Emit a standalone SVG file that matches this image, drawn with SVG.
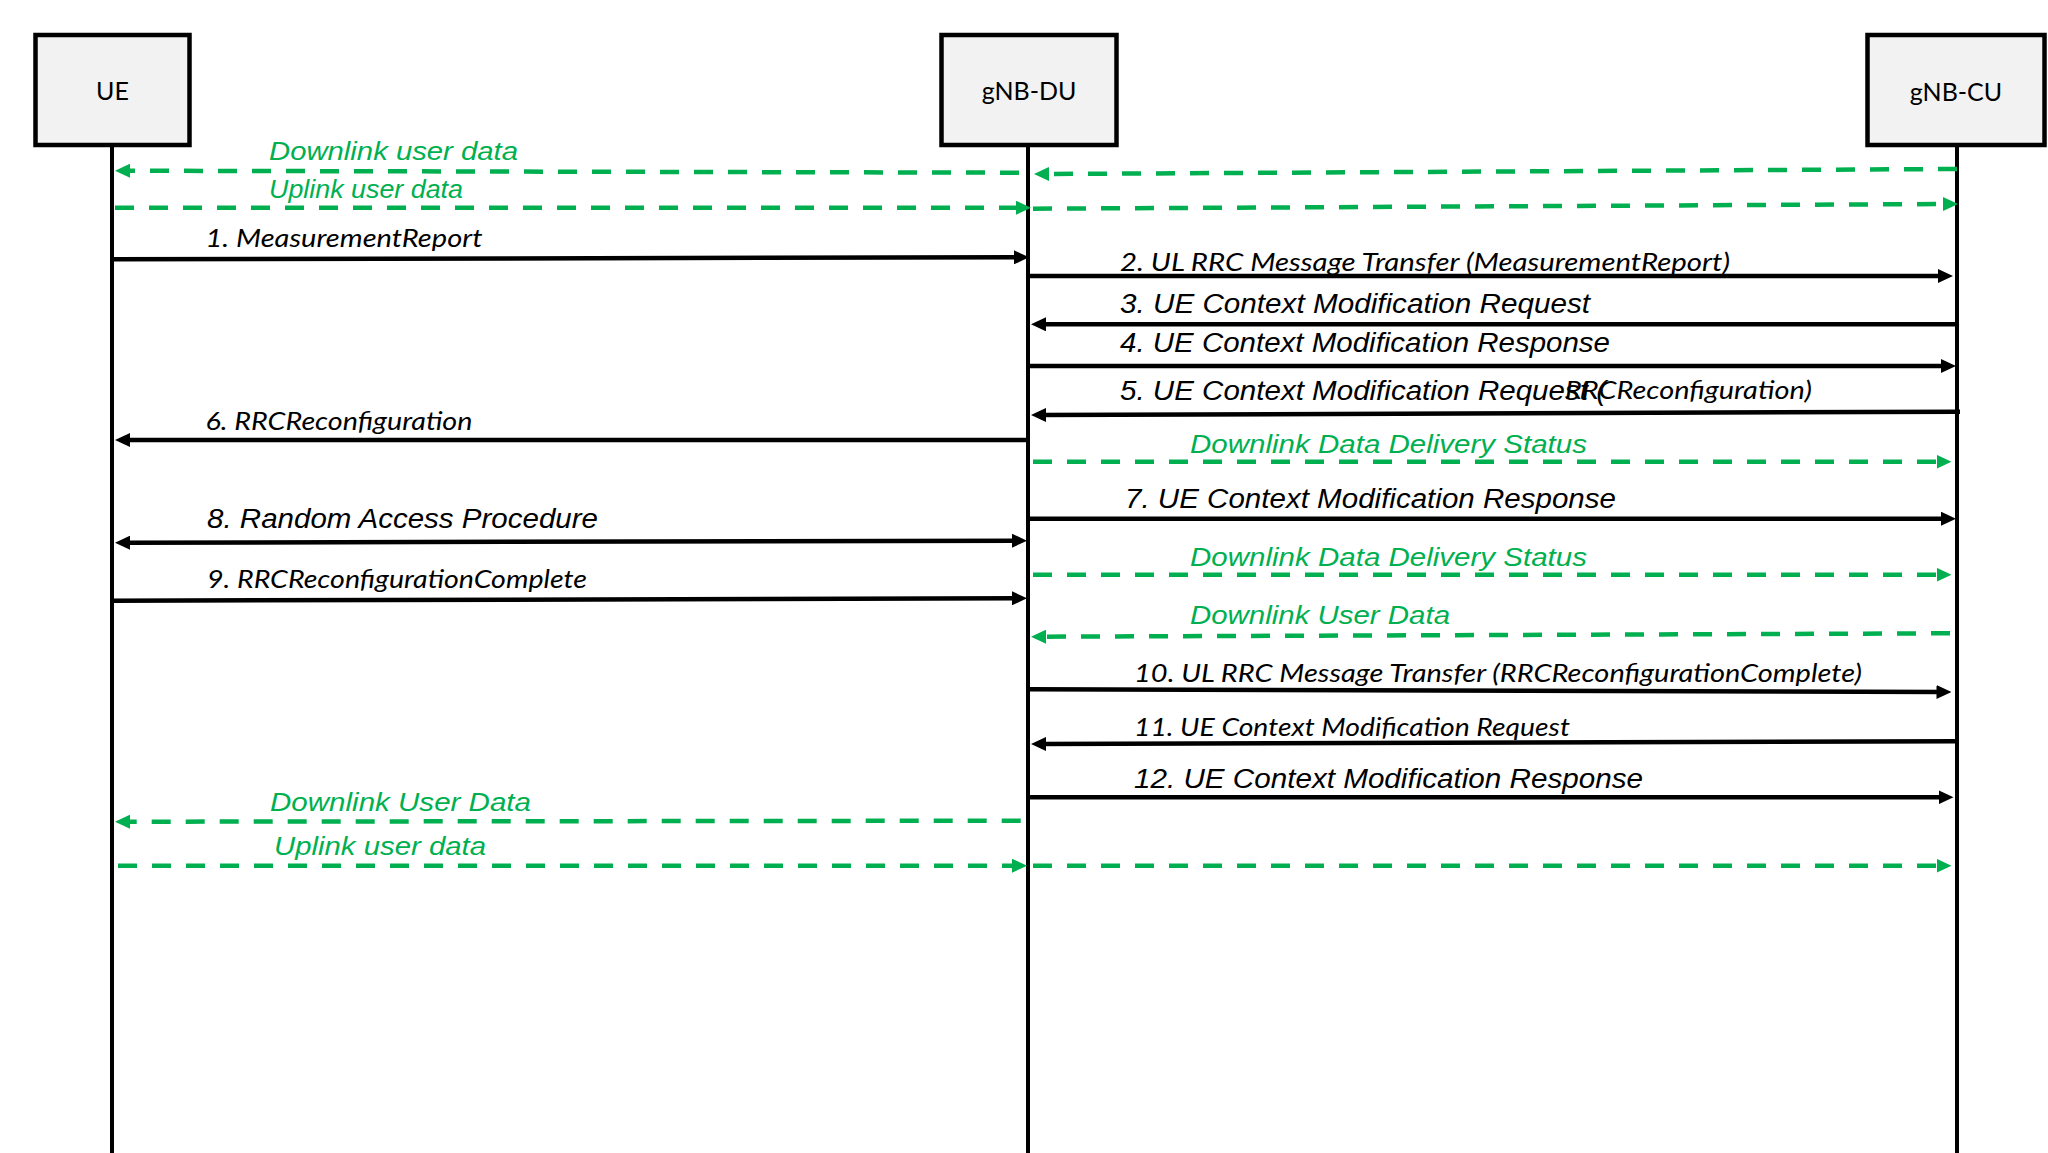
<svg xmlns="http://www.w3.org/2000/svg" width="2048" height="1153" viewBox="0 0 2048 1153">
  <style>
    .box { fill: #f2f2f2; stroke: #000; stroke-width: 4.5; }
    .life { stroke: #000; stroke-width: 4; fill: none; }
    .name { font-family: Lato, "Liberation Sans", sans-serif; font-size: 25px; fill: #000; text-anchor: middle; }
    .msg { stroke: #000; stroke-width: 4.5; fill: none; marker-end: url(#ah); }
    .data { stroke: #00b050; stroke-width: 4.5; fill: none; stroke-dasharray: 19 15; marker-end: url(#ahg); }
    .ta { font-family: "Liberation Sans", Arial, sans-serif; font-style: italic; font-size: 27px; fill: #000; }
    .tl { font-family: Lato, "Liberation Sans", sans-serif; font-style: italic; font-size: 25px; fill: #000; }
    .tg { font-family: "Liberation Sans", Arial, sans-serif; font-style: italic; font-size: 26px; fill: #00b050; }
  </style>
  <defs>
    <marker id="ah" markerUnits="userSpaceOnUse" markerWidth="15" markerHeight="14" refX="6" refY="7" orient="auto-start-reverse">
      <path d="M0,0 L15,7 L0,14 z" fill="#000"/>
    </marker>
    <marker id="ahg" markerUnits="userSpaceOnUse" markerWidth="15" markerHeight="14" refX="6" refY="7" orient="auto-start-reverse">
      <path d="M0,0 L15,7 L0,14 z" fill="#00b050"/>
    </marker>
  </defs>

  <rect width="2048" height="1153" fill="#fff"/>

  <!-- participants with their lifelines -->
  <g id="ue">
    <rect class="box" x="35.5" y="35" width="154" height="110"/>
    <text class="name" x="112.5" y="100">UE</text>
    <line class="life" x1="112" y1="147" x2="112" y2="1153"/>
  </g>
  <g id="gnb-du">
    <rect class="box" x="941.5" y="35" width="175" height="110"/>
    <text class="name" x="1029" y="100">gNB-DU</text>
    <line class="life" x1="1028" y1="147" x2="1028" y2="1153"/>
  </g>
  <g id="gnb-cu">
    <rect class="box" x="1867.5" y="35" width="177" height="110"/>
    <text class="name" x="1956" y="101">gNB-CU</text>
    <line class="life" x1="1957" y1="146" x2="1957" y2="1153"/>
  </g>

  <!-- message flow -->
  <g id="connectors">
    <g id="dl-data-1">
      <path class="data" d="M1957,169 L1043,174"/>
      <path class="data" d="M1019,172.7 L124,170.7"/>
      <text class="tg" x="269" y="160" textLength="249" lengthAdjust="spacingAndGlyphs">Downlink user data</text>
    </g>
    <g id="ul-data-1">
      <path class="data" d="M115,207.7 L1022,207.7"/>
      <path class="data" d="M1033,208.7 L1949,204"/>
      <text class="tg" x="269" y="198" textLength="194" lengthAdjust="spacingAndGlyphs">Uplink user data</text>
    </g>
    <g id="msg-1">
      <path class="msg" d="M113,259.3 L1020,257.3"/>
      <text class="tl" x="205.5" y="246.7" font-size="26" textLength="277" lengthAdjust="spacingAndGlyphs">1. MeasurementReport</text>
    </g>
    <g id="msg-2">
      <path class="msg" d="M1030,276 L1944,276"/>
      <text class="tl" x="1120" y="271" font-size="24" textLength="610" lengthAdjust="spacingAndGlyphs">2. UL RRC Message Transfer (MeasurementReport)</text>
    </g>
    <g id="msg-3">
      <path class="msg" d="M1957,324.3 L1040,324.3"/>
      <text class="ta" x="1120" y="313" textLength="470" lengthAdjust="spacingAndGlyphs">3. UE Context Modification Request</text>
    </g>
    <g id="msg-4">
      <path class="msg" d="M1030,366 L1947,366"/>
      <text class="ta" x="1120" y="352" textLength="490" lengthAdjust="spacingAndGlyphs">4. UE Context Modification Response</text>
    </g>
    <g id="msg-5">
      <path class="msg" d="M1960,411.7 L1040,415"/>
      <text class="ta" x="1120" y="400" textLength="486" lengthAdjust="spacingAndGlyphs">5. UE Context Modification Request (</text>
      <text class="tl" x="1565" y="399" textLength="247" lengthAdjust="spacingAndGlyphs">RRCReconfiguration)</text>
    </g>
    <g id="msg-6">
      <path class="msg" d="M1028,440 L124,440"/>
      <text class="tl" x="205.5" y="430" font-size="25.5" textLength="267" lengthAdjust="spacingAndGlyphs">6. RRCReconfiguration</text>
    </g>
    <g id="dds-1">
      <path class="data" d="M1033,461.7 L1942.5,461.7"/>
      <text class="tg" x="1190" y="453" textLength="397" lengthAdjust="spacingAndGlyphs">Downlink Data Delivery Status</text>
    </g>
    <g id="msg-7">
      <path class="msg" d="M1030,518.7 L1947,518.7"/>
      <text class="ta" x="1125" y="508" textLength="491" lengthAdjust="spacingAndGlyphs">7. UE Context Modification Response</text>
    </g>
    <g id="msg-8">
      <path class="msg" marker-start="url(#ah)" d="M124,542.7 L1018,540.7"/>
      <text class="ta" x="207" y="528" textLength="391" lengthAdjust="spacingAndGlyphs">8. Random Access Procedure</text>
    </g>
    <g id="dds-2">
      <path class="data" d="M1033,574.7 L1942.5,574.7"/>
      <text class="tg" x="1190" y="566" textLength="397" lengthAdjust="spacingAndGlyphs">Downlink Data Delivery Status</text>
    </g>
    <g id="msg-9">
      <path class="msg" d="M112,600.7 L1018,598.3"/>
      <text class="tl" x="207" y="588" font-size="26" textLength="380" lengthAdjust="spacingAndGlyphs">9. RRCReconfigurationComplete</text>
    </g>
    <g id="dl-data-2">
      <path class="data" d="M1950,633.3 L1040,636.7"/>
      <text class="tg" x="1190" y="624" textLength="260" lengthAdjust="spacingAndGlyphs">Downlink User Data</text>
    </g>
    <g id="msg-10">
      <path class="msg" d="M1030,689.3 L1942.5,692"/>
      <text class="tl" x="1134" y="682" font-size="24" textLength="728" lengthAdjust="spacingAndGlyphs">10. UL RRC Message Transfer (RRCReconfigurationComplete)</text>
    </g>
    <g id="msg-11">
      <path class="msg" d="M1957,741.3 L1040,744"/>
      <text class="tl" x="1134" y="736" font-size="23.5" textLength="436" lengthAdjust="spacingAndGlyphs">11. UE Context Modification Request</text>
    </g>
    <g id="msg-12">
      <path class="msg" d="M1030,797.3 L1944.5,797.3"/>
      <text class="ta" x="1134" y="788" textLength="509" lengthAdjust="spacingAndGlyphs">12. UE Context Modification Response</text>
    </g>
    <g id="dl-data-3">
      <path class="data" d="M1020.7,820.7 L124,821.7"/>
      <text class="tg" x="270" y="810.7" textLength="261" lengthAdjust="spacingAndGlyphs">Downlink User Data</text>
    </g>
    <g id="ul-data-2">
      <path class="data" d="M118,865.7 L1018,865.7"/>
      <path class="data" d="M1033,865.7 L1942.5,865.7"/>
      <text class="tg" x="274" y="855" textLength="212" lengthAdjust="spacingAndGlyphs">Uplink user data</text>
    </g>
  </g>
</svg>
